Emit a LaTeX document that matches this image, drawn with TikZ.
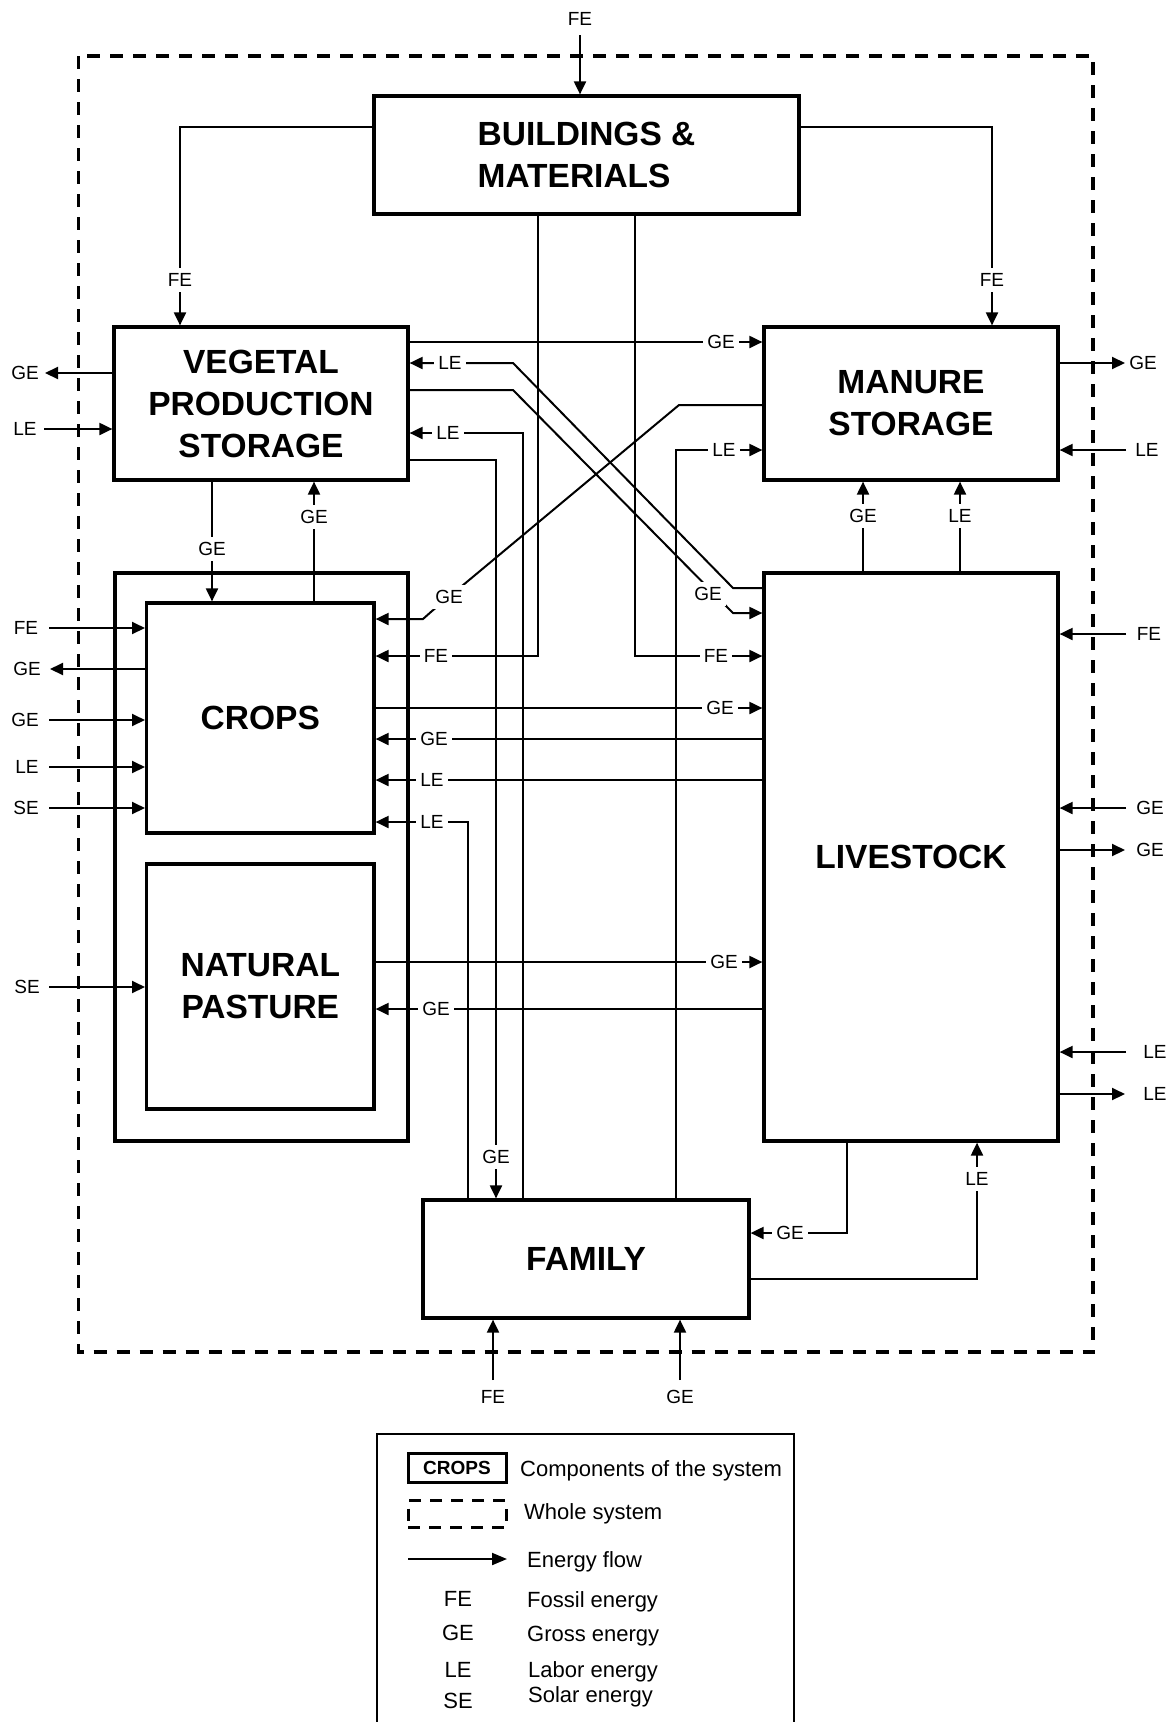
\documentclass[tikz,border=0pt]{standalone}
\usepackage{fontspec}
\setmainfont{Liberation Sans}
\usetikzlibrary{arrows.meta,calc}
\tikzset{
  box/.style={draw, line width=3.2pt, inner sep=0pt, font=\fontsize{33.5}{42}\selectfont\bfseries, align=center},
  flow/.style={line width=2pt, -{Triangle[length=13pt,width=12pt]}},
  lbl/.style={font=\fontsize{19}{22}\selectfont, fill=white, inner xsep=4pt, inner ysep=5pt},
  olbl/.style={font=\fontsize{19}{22}\selectfont, inner sep=0pt},
  wholesys/.style={line width=3.5pt, dash pattern=on 13pt off 10pt},
  legtxt/.style={font=\fontsize{22}{26}\selectfont, inner sep=0pt},
}
\begin{document}
\begin{tikzpicture}[x=1pt,y=-1pt]
\useasboundingbox (0,0) rectangle (1173,1722);
% whole system
\draw[wholesys] (78.5,56) rectangle (1093,1352);
% components
\node[box, minimum width=425pt, minimum height=118pt, align=left] (bm) at (586.5,155) {BUILDINGS \&\\MATERIALS};
\node[box, minimum width=294pt, minimum height=153pt] (veg) at (261,403.5) {VEGETAL\\PRODUCTION\\STORAGE};
\node[box, minimum width=294pt, minimum height=153pt] (man) at (911,403.5) {MANURE\\STORAGE};
\node[box, minimum width=293pt, minimum height=568pt] (cp) at (261.5,857) {};
\node[box, minimum width=227.4pt, minimum height=230pt] (crops) at (260.3,718) {CROPS};
\node[box, minimum width=227.4pt, minimum height=245pt] (past) at (260.3,986.5) {NATURAL\\PASTURE};
\node[box, minimum width=294pt, minimum height=568pt] (liv) at (911,857) {LIVESTOCK};
\node[box, minimum width=326pt, minimum height=118pt] (fam) at (586,1259) {FAMILY};
% outside labels
\node[olbl] (oT) at (580,19) {FE};
\node[olbl] (oV1) at (25,373) {GE};
\node[olbl] (oV2) at (25,429) {LE};
\node[olbl] (oC1) at (26,628) {FE};
\node[olbl] (oC2) at (27,669) {GE};
\node[olbl] (oC3) at (25,720) {GE};
\node[olbl] (oC4) at (27,767) {LE};
\node[olbl] (oC5) at (26,808) {SE};
\node[olbl] (oP1) at (27,987) {SE};
\node[olbl] (oM1) at (1143,363) {GE};
\node[olbl] (oM2) at (1147,450) {LE};
\node[olbl] (oL1) at (1149,634) {FE};
\node[olbl] (oL2) at (1150,808) {GE};
\node[olbl] (oL3) at (1150,850) {GE};
\node[olbl] (oL4) at (1155,1052) {LE};
\node[olbl] (oL5) at (1155,1094) {LE};
\node[olbl] (oF1) at (493,1397) {FE};
\node[olbl] (oF2) at (680,1397) {GE};
% connectors
\draw[flow] (oT.south |- 0,35) -- (oT.south |- bm.north);
\draw[flow] (bm.west |- 0,127) -| (veg.north -| 180,0);
\draw[flow] (bm.east |- 0,127) -| (man.north -| 992,0);
\draw[flow] (bm.south -| 538,0) |- (crops.east |- 0,656);
\draw[flow] (bm.south -| 635,0) |- (liv.west |- 0,656);
\draw[flow] (veg.west |- 0,373) -- (45,373);
\draw[flow] (44,429) -- (veg.west |- 0,429);
\draw[flow] (veg.east |- 0,342) -- (man.west |- 0,342);
\draw[flow] (liv.west |- 0,588) -- (733,588) -- (513,363) -- (veg.east |- 0,363);
\draw[flow] (veg.east |- 0,390) -- (513,390) -- (733,613) -- (liv.west |- 0,613);
\draw[flow] (fam.north -| 523,0) |- (veg.east |- 0,433);
\draw[flow] (veg.east |- 0,460) -| (fam.north -| 496,0);
\draw[flow] (veg.south -| 212,0) -- (crops.north -| 212,0);
\draw[flow] (crops.north -| 314,0) -- (veg.south -| 314,0);
\draw[flow] (man.east |- 0,363) -- (1125,363);
\draw[flow] (1126,450) -- (man.east |- 0,450);
\draw[flow] (man.west |- 0,405) -- (679,405) -- (432,611) -- (423,619) -- (crops.east |- 0,619);
\draw[flow] (fam.north -| 676,0) |- (man.west |- 0,450);
\draw[flow] (liv.north -| 863,0) -- (man.south -| 863,0);
\draw[flow] (liv.north -| 960,0) -- (man.south -| 960,0);
\draw[flow] (49,628) -- (crops.west |- 0,628);
\draw[flow] (crops.west |- 0,669) -- (50,669);
\draw[flow] (49,720) -- (crops.west |- 0,720);
\draw[flow] (49,767) -- (crops.west |- 0,767);
\draw[flow] (49,808) -- (crops.west |- 0,808);
\draw[flow] (liv.west |- 0,739) -- (crops.east |- 0,739);
\draw[flow] (liv.west |- 0,780) -- (crops.east |- 0,780);
\draw[flow] (crops.east |- 0,708) -- (liv.west |- 0,708);
\draw[flow] (fam.north -| 468,0) |- (crops.east |- 0,822);
\draw[flow] (49,987) -- (past.west |- 0,987);
\draw[flow] (past.east |- 0,962) -- (liv.west |- 0,962);
\draw[flow] (liv.west |- 0,1009) -- (past.east |- 0,1009);
\draw[flow] (1126,634) -- (liv.east |- 0,634);
\draw[flow] (1126,808) -- (liv.east |- 0,808);
\draw[flow] (liv.east |- 0,850) -- (1125,850);
\draw[flow] (1126,1052) -- (liv.east |- 0,1052);
\draw[flow] (liv.east |- 0,1094) -- (1125,1094);
\draw[flow] (liv.south -| 847,0) |- (fam.east |- 0,1233);
\draw[flow] (fam.east |- 0,1279) -| (liv.south -| 977,0);
\draw[flow] (oF1.north |- 0,1380) -- (oF1.north |- fam.south);
\draw[flow] (oF2.north |- 0,1380) -- (oF2.north |- fam.south);
% inline labels
\node[lbl] (i1) at (180,280) {FE};
\node[lbl] (i2) at (992,280) {FE};
\node[lbl] (i3) at (436,656) {FE};
\node[lbl] (i4) at (716,656) {FE};
\node[lbl] (i5) at (721,342) {GE};
\node[lbl] (i6) at (450,363) {LE};
\node[lbl] (i7) at (708,594) {GE};
\node[lbl] (i8) at (448,433) {LE};
\node[lbl] (i9) at (496,1157) {GE};
\node[lbl] (i10) at (212,549) {GE};
\node[lbl] (i11) at (314,517) {GE};
\node[lbl] (i12) at (449,597) {GE};
\node[lbl] (i13) at (724,450) {LE};
\node[lbl] (i14) at (863,516) {GE};
\node[lbl] (i15) at (960,516) {LE};
\node[lbl] (i16) at (434,739) {GE};
\node[lbl] (i17) at (432,780) {LE};
\node[lbl] (i18) at (720,708) {GE};
\node[lbl] (i19) at (432,822) {LE};
\node[lbl] (i20) at (724,962) {GE};
\node[lbl] (i21) at (436,1009) {GE};
\node[lbl] (i22) at (790,1233) {GE};
\node[lbl] (i23) at (977,1179) {LE};
% legend
\draw[line width=2pt] (377,1726) -- (377,1434) -- (794,1434) -- (794,1726);
\node[box, font=\fontsize{19}{22}\selectfont\bfseries, line width=3pt, minimum width=98pt, minimum height=29pt] (legc) at (457,1468) {CROPS};
\node[draw, line width=3pt, dash pattern=on 12pt off 9pt, minimum width=98pt, minimum height=27pt, inner sep=0pt] (legd) at (457,1514) {};
\coordinate (la1) at (408,1559);
\coordinate (la2) at (507,1559);
\draw[flow, -{Triangle[length=15pt,width=12pt]}] (la1) -- (la2);
\node[legtxt, anchor=base west] (t1) at (520,1476) {Components of the system};
\node[legtxt, anchor=base west] (t2) at (524,1519) {Whole system};
\node[legtxt, anchor=base west] (t3) at (527,1567) {Energy flow};
\node[legtxt, anchor=base west] (t4) at (527,1607) {Fossil energy};
\node[legtxt, anchor=base west] (t5) at (527,1641) {Gross energy};
\node[legtxt, anchor=base west] (t6) at (528,1677) {Labor energy};
\node[legtxt, anchor=base west] (t7) at (528,1702) {Solar energy};
\node[legtxt, anchor=base] (a4) at (458,1606.5) {FE};
\node[legtxt, anchor=base] (a5) at (458,1640.5) {GE};
\node[legtxt, anchor=base] (a6) at (458,1677) {LE};
\node[legtxt, anchor=base] (a7) at (458,1708.5) {SE};
\end{tikzpicture}
\end{document}
